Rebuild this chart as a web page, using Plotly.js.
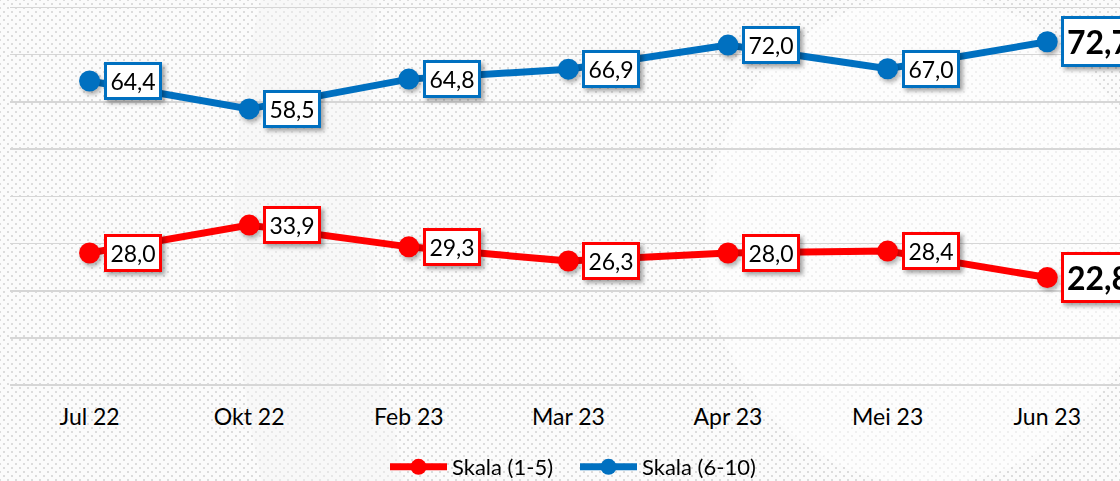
<!DOCTYPE html>
<html>
<head>
<meta charset="utf-8">
<script src="https://cdn.plot.ly/plotly-3.0.1.min.js"></script>
<style>
  html, body { margin:0; padding:0; }
  body {
    width:1120px; height:481px; overflow:hidden;
    background-color:#fbfbfb;
    background-image:
      radial-gradient(circle, #dcdcdc 0.9px, rgba(0,0,0,0) 1.3px),
      radial-gradient(circle, #dcdcdc 0.9px, rgba(0,0,0,0) 1.3px);
    background-size:8px 8px, 8px 8px;
    background-position:0 0, 4px 4px;
  }
  #chart { width:1120px; height:481px; }
  #chart g.annotation { filter: drop-shadow(3px 3px 2px rgba(0,0,0,0.35)); }
  #chart .scatterlayer .points { filter: drop-shadow(2px 3px 2px rgba(0,0,0,0.3)); }
</style>
</head>
<body>
<div id="chart"></div>
<script>
const categories = ["Jul 22", "Okt 22", "Feb 23", "Mar 23", "Apr 23", "Mei 23", "Jun 23"];
const skala1_5 = [28.0, 33.9, 29.3, 26.3, 28.0, 28.4, 22.8];
const skala6_10 = [64.4, 58.5, 64.8, 66.9, 72.0, 67.0, 72.7];
const seriesNames = ["Skala (1-5)", "Skala (6-10)"];
const RED = "#FF0000", BLUE = "#0070C0";
const FONT = "Lato, sans-serif";

const W = 1120, H = 481, ML = 10, MB = 94;
const PW = W - ML, PH = H - MB;
const px = X => (X - ML) / PW;
const py = Y => (PH - Y) / PH;

function fmt(v) { return v.toFixed(1).replace(".", ","); }

const traces = [
  { x: categories, y: skala1_5, name: seriesNames[0], type: "scatter", mode: "lines+markers",
    line: { color: RED, width: 7 }, marker: { color: RED, size: 21 }, hoverinfo: "skip" },
  { x: categories, y: skala6_10, name: seriesNames[1], type: "scatter", mode: "lines+markers",
    line: { color: BLUE, width: 7 }, marker: { color: BLUE, size: 21 }, hoverinfo: "skip" }
];

const annotations = [];
[[skala1_5, RED], [skala6_10, BLUE]].forEach(([vals, col]) => {
  vals.forEach((v, i) => {
    const last = i === vals.length - 1;
    annotations.push({
      x: categories[i], y: v, xref: "x", yref: "y",
      text: last ? "<b>" + fmt(v) + "</b>" : fmt(v),
      showarrow: false, xanchor: "left", yanchor: "middle", xshift: 14,
      align: last ? "left" : "center",
      font: { family: FONT, size: last ? 32 : 23, color: "#000" },
      bgcolor: "#ffffff", bordercolor: col, borderwidth: 3, borderpad: last ? 3 : 2,
      width: last ? 90 : 48
    });
  });
});

const shapes = [
  { type: "circle", xref: "paper", yref: "paper", layer: "below",
    x0: px(705), x1: px(1150), y0: py(485), y1: py(-5),
    fillcolor: "rgba(255,255,255,0.55)", line: { width: 0 } },
  { type: "path", xref: "paper", yref: "paper", layer: "below",
    path: `M ${px(262)} ${py(-5)} Q ${px(205)} ${py(230)} ${px(263)} ${py(486)} L ${px(404)} ${py(486)} Q ${px(355)} ${py(230)} ${px(378)} ${py(-5)} Z`,
    fillcolor: "rgba(243,243,243,0.45)", line: { width: 0 } }
];

const layout = {
  width: W, height: H,
  margin: { l: ML, r: 0, t: 0, b: MB, pad: 0, autoexpand: false },
  paper_bgcolor: "rgba(0,0,0,0)", plot_bgcolor: "rgba(0,0,0,0)",
  showlegend: true,
  legend: { orientation: "h", xref: "container", yref: "container",
    x: 575 / W, xanchor: "center", y: (H - 467) / H, yanchor: "middle",
    font: { family: FONT, size: 22, color: "#000" }, bgcolor: "rgba(0,0,0,0)",
    itemwidth: 57, traceorder: "normal", entrywidth: 118 },
  xaxis: { type: "category", range: [-0.4987, 6.456], showgrid: false, zeroline: false, showline: false,
    ticks: "outside", ticklen: 9, tickcolor: "rgba(0,0,0,0)", automargin: false,
    tickfont: { family: FONT, size: 23, color: "#000" }, fixedrange: true },
  yaxis: { range: [-0.36, 81.545], dtick: 10, tick0: 0, showgrid: true, gridcolor: "#d6d6d6", gridwidth: 1.6,
    zeroline: false, showline: false, showticklabels: false, fixedrange: true, automargin: false },
  annotations: annotations,
  shapes: shapes
};

Plotly.newPlot("chart", traces, layout, { displayModeBar: false, staticPlot: true });
</script>
</body>
</html>
